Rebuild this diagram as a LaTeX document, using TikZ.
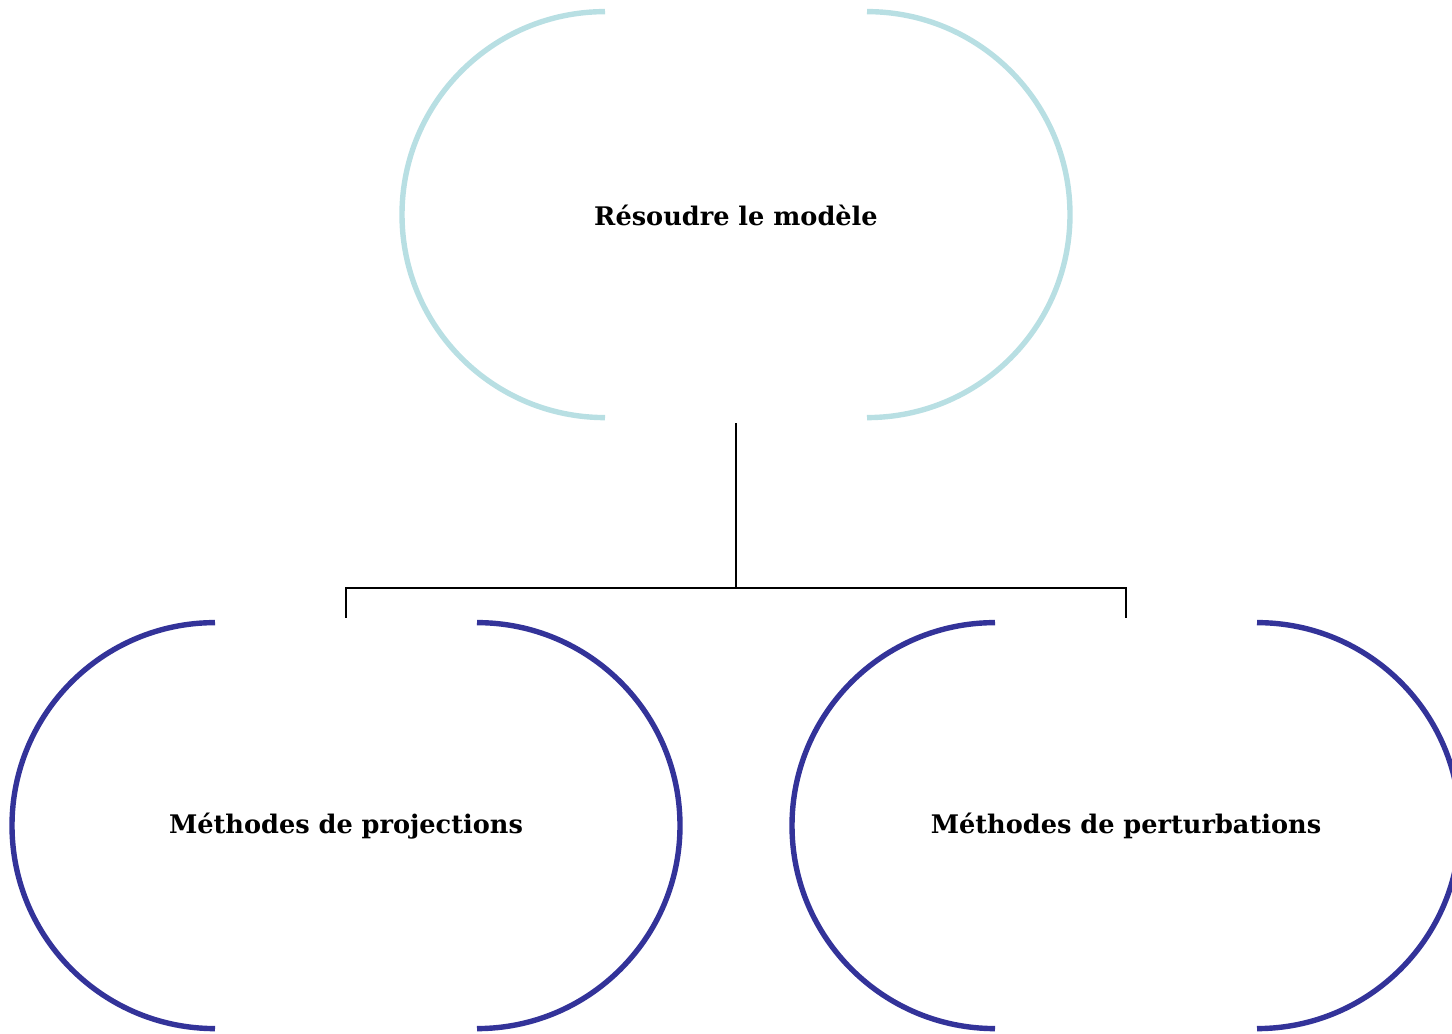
\documentclass[tikz,border=0pt]{standalone}
\usepackage{fontspec}
\setmainfont{DejaVu Serif}
\usetikzlibrary{positioning,calc}
\definecolor{paleteal}{HTML}{B8DFE3}
\definecolor{deepindigo}{HTML}{333399}

\begin{document}
\begin{tikzpicture}[
  x=0.5pt,y=0.5pt,
  font=\fontsize{12.8}{15}\selectfont\bfseries,
  bubble/.style={
    inner sep=0pt,
    minimum width=334pt,
    minimum height=203pt,
    align=center
  },
  toparc/.style={draw=paleteal,line width=2.7pt},
  subarc/.style={draw=deepindigo,line width=2.7pt},
  link/.style={draw=black,line width=1pt}
]
\useasboundingbox (0,0) rectangle (1452,-1034);
\node[bubble] (solve) at (736,-215) {Résoudre le modèle};
\node[bubble] (proj) at (346,-826) {Méthodes de projections};
\node[bubble] (pert) at (1126,-826) {Méthodes de perturbations};
% bracket arcs
\draw[toparc] ($(solve.north)+(-131,0)$) arc[start angle=90,end angle=270,radius=203];
\draw[toparc] ($(solve.north)+(131,0)$) arc[start angle=90,end angle=-90,radius=203];
\draw[subarc] ($(proj.north)+(-131,0)$) arc[start angle=90,end angle=270,radius=203];
\draw[subarc] ($(proj.north)+(131,0)$) arc[start angle=90,end angle=-90,radius=203];
\draw[subarc] ($(pert.north)+(-131,0)$) arc[start angle=90,end angle=270,radius=203];
\draw[subarc] ($(pert.north)+(131,0)$) arc[start angle=90,end angle=-90,radius=203];
% connectors
\coordinate (fork) at (736,-588);
\draw[link] ([yshift=-2.5pt]solve.south) -- (fork);
\draw[link] ([yshift=2.5pt]proj.north) |- (fork) -| ([yshift=2.5pt]pert.north);
\end{tikzpicture}
\end{document}
